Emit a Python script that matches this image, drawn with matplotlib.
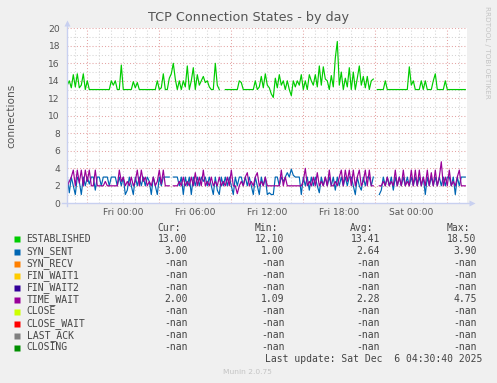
import numpy as np
import matplotlib
matplotlib.use("Agg")
import matplotlib.pyplot as plt
from matplotlib.lines import Line2D

# -------------------------------
# Data (10 minute samples, hours relative to Fri 00:00)
# -------------------------------
nan = np.nan
t_start = -4.0 - 40 / 60.0      # Thu 19:20
step_h = 10 / 60.0

established = [
    13.5, 14, 13.2, 14.7, 13.3, 14.8, 13.2, 13.5, 14.8, 13, 14, 13, 13, 13, 13, 13, 13, 13, 13, 13,
    13, 13, 14, 13.5, 14, 13, 13, 15.8, 13, 13, 13, 13, 13, 13.9, 13.2, 13.8, 13, 13, 13, 13,
    13, 13, 13, 13, 13, 14, 13, 13.2, 14.8, 13, 13, 14.3, 14.8, 16, 14.2, 13, 14, 13, 14, 13.3,
    15.7, 13, 14, 15.5, 13, 14.7, 13.5, 14, 14.5, 13.8, 14, 13.3, 13, 13, 16, 13.5, 13, nan, nan, 13,
    13, 13, 13, 13, 13, 13, 14, 13.8, 13, 13, 13, 13, 13, 13, 14, 13, 13.3, 14.5, 13.2, 14.8,
    13.5, 13.2, 12.5, 12.1, 14.3, 13.2, 14.7, 13.5, 14, 13, 14, 13, 12.3, 14, 13.3, 14, 13.5, 14.7, 13, 14,
    13, 14.7, 14, 13.5, 14.7, 13.3, 15.7, 13.5, 15.6, 14.2, 14, 13, 14.6, 13.3, 16.6, 18.5, 13.5, 15, 13, 14.3,
    13.3, 15.5, 13, 15, 13, 14.3, 15.7, 13.5, 14.5, 13.2, 14.5, 13, 14, 14.2, nan, 13, 13, 13, 13, 14,
    13, 13, 13, 13, 13, 13, 13, 13, 13, 13, 13, 15.6, 13.5, 14, 13, 13, 13, 14, 13, 14,
    13, 13, 13, 14, 14.8, 13, 13, 13, 13, 14, 13, 13, 13, 13, 13, 13, 13, 13, 13, 13,
]

syn_sent = [
    3, 1.2, 3, 2, 1, 3, 2.5, 1, 3, 2, 3, 2.2, 3, 3, 1.5, 3, 3, 2, 3, 3,
    3, 2, 3, 3, 3, 2, 3, 2, 3, 1, 1.5, 3, 2, 1, 3, 2, 3, 2, 3, 2,
    3, 2.5, 1, 3, 2, 1, 3, 2, 3, 3, 3, 3, nan, 3, 3, 3, 2, 3, 1, 3,
    2, 3, 1, 3, 2, 3, 2, 3, 2.5, 3, 2, 3, 2, 1, 3, 1.5, 1, 3, 2, 3,
    2, 3, 2, 1, 3, 2, 3, 3, 2, 3, 2, 3, 2, 1, 3, 2, 1, 3, 2, 3,
    1, 1.2, 1, 1, 3, 3, 2, 3, 2.5, 3, 3.5, 3, 3.9, 3.2, 3, 3, 3, 1, 3, 2,
    3, 1.5, 3, 2, 3, 2, 1.2, 3, 2, 3, 2, 3, 2, 3, 1.5, 3, 2, 3, 2, 3,
    2, 3, 3, 2, 1, 3, 2, 1.5, 3, 2, 3, 3, 2, 3, nan, nan, 1, 1.5, 3, 2,
    3, 2, 3, 1.5, 3, 2, 3, 2, 3, 2, 3, 2, 3, 2, 3, 2, 3, 2, 3, 1,
    3, 2, 3, 2, 3, 2, 3, 2, 3, 2, 3, 3, 2, 3, 1, 3, 2, 3, 3, 3,
]

time_wait = [
    2, 2.5, 3, 3.8, 2, 3.8, 2.3, 3.8, 2, 3.8, 2.5, 3.8, 2, 2, 3.8, 2, 2, 2, 2, 2.5,
    2, 2, 2, 2, 2, 2, 3.8, 2.5, 3, 2, 2.5, 2, 3, 2, 2.5, 3.8, 2, 3.8, 2.5, 3,
    2, 2.5, 2, 3, 2, 2.5, 3.8, 2.2, 3.8, 2, 2, 2, nan, 2, 2, 2, 2.5, 2, 3, 2,
    2.5, 2, 3, 2, 3.5, 2, 3, 2, 3.8, 2, 2.5, 2, 3, 2, 2.5, 2, 3, 2, 2.5, 2,
    3, 2, 3.8, 2, 2, 1.1, 2, 2.5, 2, 3, 3.5, 2, 2.5, 2, 3, 3.5, 2, 2.5, 2, 3,
    2, 2, 2, 2, 2, 2, 2, 3.8, 2, 3, 2, 2, 2, 2, 2, 2, 2, 2, 2.5, 4,
    2, 2.5, 2, 3, 2, 3.5, 2, 2.5, 2, 3, 2, 3.8, 2, 2, 2.5, 2, 3, 3.8, 2, 3.8,
    2.5, 3.8, 2, 3.8, 2, 3, 3.8, 2, 2.5, 3.8, 2, 3.8, 2, 2, nan, nan, 2, 2, 2.5, 2,
    3, 2, 2.5, 2, 3.8, 2, 3, 2, 3.8, 2, 2.5, 2, 3.8, 2, 3.8, 2, 3.8, 2, 3, 2,
    3.8, 2, 3.5, 2, 3.8, 2, 3, 4.75, 2, 3, 2, 3.8, 2, 2.5, 2, 3, 3.8, 2, 2, 2,
]

legend_names = ["ESTABLISHED", "SYN_SENT", "SYN_RECV", "FIN_WAIT1", "FIN_WAIT2",
                "TIME_WAIT", "CLOSE", "CLOSE_WAIT", "LAST_ACK", "CLOSING"]
legend_colors = ["#00CC00", "#0066B3", "#FF8000", "#FFCC00", "#330099",
                 "#990099", "#CCFF00", "#FF0000", "#808080", "#008F00"]
cur_vals = ["13.00", "3.00", "-nan", "-nan", "-nan", "2.00", "-nan", "-nan", "-nan", "-nan"]
min_vals = ["12.10", "1.00", "-nan", "-nan", "-nan", "1.09", "-nan", "-nan", "-nan", "-nan"]
avg_vals = ["13.41", "2.64", "-nan", "-nan", "-nan", "2.28", "-nan", "-nan", "-nan", "-nan"]
max_vals = ["18.50", "3.90", "-nan", "-nan", "-nan", "4.75", "-nan", "-nan", "-nan", "-nan"]

x_ticks = [0, 6, 12, 18, 24]
x_ticklabels = ["Fri 00:00", "Fri 06:00", "Fri 12:00", "Fri 18:00", "Sat 00:00"]
y_ticks = list(range(0, 21, 2))

# -------------------------------
# Figure layout (pixel based)
# -------------------------------
W, H = 497, 383
fig = plt.figure(figsize=(W / 100, H / 100), dpi=100, facecolor="#F0F0F0")


def fx(px):
    return px / W


def fy(py):
    return 1 - py / H


left, right, top, bottom = 66.7, 466.7, 28.3, 203.3
ax = fig.add_axes([fx(left), fy(bottom), (right - left) / W, (bottom - top) / H])
ax.set_facecolor("white")

x0 = -4.0 - 43 / 60.0
ax.set_xlim(x0, x0 + 2000 / 60.0)
ax.set_ylim(0, 20)

# grid: minor grey dotted, major red dotted
dot = (0, (1, 2))
for h in range(-4, 29):
    if (h + 3) % 6 == 0:
        continue
    ax.axvline(h, color="#d4d4d4", lw=0.75, ls=dot, zorder=1)
for h in range(-3, 29, 6):
    ax.axvline(h, color="#e4a4a4", lw=0.75, ls=dot, zorder=1)
for v in range(1, 21, 2):
    ax.axhline(v, color="#d4d4d4", lw=0.75, ls=dot, zorder=1)
for v in range(2, 21, 2):
    ax.axhline(v, color="#e4a4a4", lw=0.75, ls=dot, zorder=1)

t = t_start + step_h * np.arange(len(established))
ax.plot(t, established, color=legend_colors[0], lw=0.85, zorder=3)
ax.plot(t, syn_sent, color=legend_colors[1], lw=0.85, zorder=3)
ax.plot(t, time_wait, color=legend_colors[5], lw=0.85, zorder=4)

for s in ax.spines.values():
    s.set_visible(False)
ax.tick_params(length=0, labelsize=6.6, colors="#555555")
ax.tick_params(axis="y", pad=4.8)
ax.tick_params(axis="x", pad=3.5)
ax.set_xticks(x_ticks)
ax.set_xticklabels(x_ticklabels)
ax.set_yticks(y_ticks)
ax.set_yticklabels([str(v) for v in y_ticks])

# axis lines with arrows
axis_col = "#c8d0f0"
fig.add_artist(Line2D([fx(left), fx(left)], [fy(bottom + 3), fy(23)], color=axis_col, lw=1.0))
fig.add_artist(Line2D([fx(62), fx(471)], [fy(bottom), fy(bottom)], color=axis_col, lw=1.0))
fig.add_artist(Line2D([fx(left)], [fy(23)], marker="^", ms=5, color=axis_col, mec="none"))
fig.add_artist(Line2D([fx(472)], [fy(bottom)], marker=">", ms=5, color=axis_col, mec="none"))

# titles
fig.text(fx(248), fy(18), "TCP Connection States - by day", ha="center", va="center",
         fontsize=9.2, color="#555555")
fig.text(fx(11), fy(116), "connections", rotation=90, ha="center", va="center",
         fontsize=7.6, color="#555555")
fig.text(fx(487), fy(52), "RRDTOOL / TOBI OETIKER", rotation=270, ha="center", va="center",
         fontsize=5.2, color="#c4c4c4")

# legend table
mono = "DejaVu Sans Mono"
fs = 7.0
tc = "#444444"
col_x = [187.7, 284.3, 380.0, 476.7]
headers = ["Cur:", "Min:", "Avg:", "Max:"]
for cx, hd in zip(col_x, headers):
    fig.text(fx(cx - 6.5), fy(228.3), hd, ha="right", va="center", family=mono, fontsize=fs, color=tc)

for i, name in enumerate(legend_names):
    yy = 239.5 + 12 * i
    fig.add_artist(Line2D([fx(17)], [fy(yy)], marker="s", ms=4.3, color=legend_colors[i], mec="none"))
    fig.text(fx(26.5), fy(yy), name, ha="left", va="center", family=mono, fontsize=fs, color=tc)
    for cx, vals in zip(col_x, [cur_vals, min_vals, avg_vals, max_vals]):
        fig.text(fx(cx), fy(yy), vals[i], ha="right", va="center", family=mono, fontsize=fs, color=tc)

fig.text(fx(482.3), fy(359.5), "Last update: Sat Dec  6 04:30:40 2025", ha="right", va="center",
         family=mono, fontsize=fs, color=tc)
fig.text(fx(247.7), fy(371.7), "Munin 2.0.75", ha="center", va="center", fontsize=5.4, color="#c4c4c4")

fig.savefig("out.png", dpi=100, facecolor=fig.get_facecolor())
